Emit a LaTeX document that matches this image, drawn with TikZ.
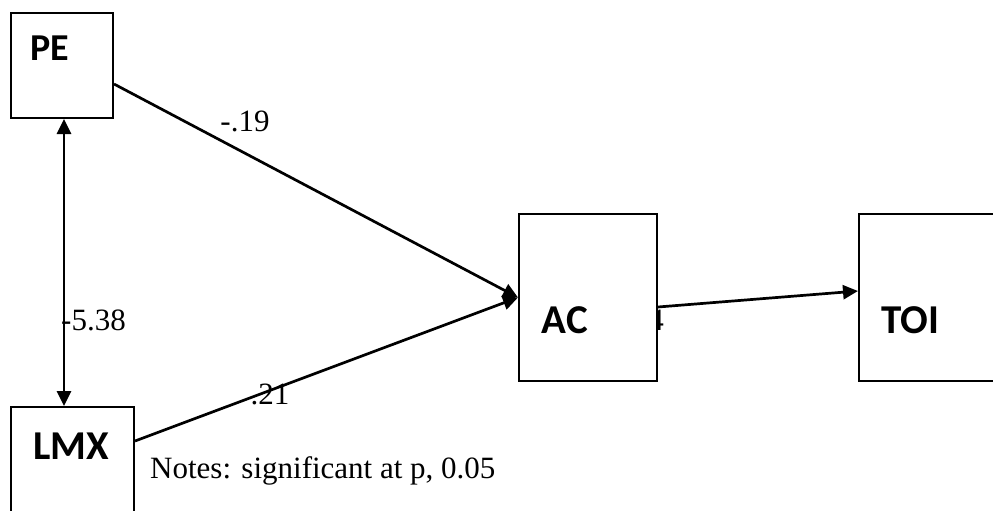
\documentclass[tikz,border=0pt]{standalone}
\usepackage{fontspec}
\setmainfont{Liberation Serif}
\newfontfamily\boxfont{Carlito}
\usetikzlibrary{arrows.meta}

\tikzset{
  box/.style={draw, line width=2pt, fill=white, inner sep=0pt},
  boxname/.style={font=\boxfont\bfseries\fontsize{41}{45}\selectfont, inner sep=0pt},
  coef/.style={font=\fontsize{31}{35}\selectfont, inner sep=0pt},
  tip/.tip={Triangle[length=15pt,width=14pt]},
  path/.style={line width=2.7pt, -tip}
}

\begin{document}
\begin{tikzpicture}[x=1pt,y=-1pt]
    \useasboundingbox (0,0) rectangle (993,511);

    %HIDDEN COEFFICIENT (behind AC)
    \node[coef, anchor=base east] (achid) at (664,330) {4};

    %BOXES
    \node[box, minimum width=102pt, minimum height=105pt] (pe) at (62,65.5) {};
    \node[box, minimum width=123pt, minimum height=108pt] (lmx) at (72.5,461) {};
    \node[box, minimum width=138pt, minimum height=167pt] (ac) at (588,297.5) {};
    \node[box, minimum width=170pt, minimum height=167pt] (toi) at (944,297.5) {};

    %BOX NAMES
    \node[boxname, font=\boxfont\bfseries\fontsize{38}{42}\selectfont] (pename) at (50,48) {PE};
    \node[boxname] (lmxname) at (71,446) {LMX};
    \node[boxname] (acname) at (565,320) {AC};
    \node[boxname] (toiname) at (910,320) {TOI};

    %PATHS
    \draw[path] ([yshift=-18.5pt]pe.east) -- (ac.west);
    \draw[path] ([yshift=20pt]lmx.east) -- (ac.west);
    \draw[path] ([yshift=-9.5pt]ac.east) -- ([yshift=6.5pt]toi.west);
    \draw[path, tip-tip] ([xshift=2pt]pe.south) -- ([xshift=2pt]pe.south |- lmx.north);

    %COEFFICIENTS
    \node[coef] (pecoef) at (245,121) {-.19};
    \node[coef, anchor=west] (corr) at (61,320) {-5.38};
    \node[coef] (lmxcoef) at (270,394) {.21};
    \node[coef, anchor=base west] (notes) at (150,478) {Notes: significant at p, 0.05};
\end{tikzpicture}
\end{document}
